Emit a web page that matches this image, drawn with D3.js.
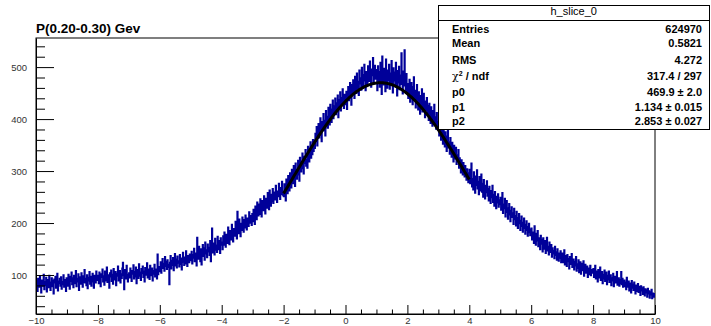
<!DOCTYPE html>
<html><head><meta charset="utf-8">
<script src="https://cdn.jsdelivr.net/npm/d3@7/dist/d3.min.js"></script>
<style>
html,body{margin:0;padding:0;background:#fff;}
svg{display:block;font-family:"Liberation Sans",Arial,Helvetica,sans-serif;}
</style></head><body>
<svg id="chart" width="711" height="326"></svg>
<script>
// Histogram h_slice_0: 1000 bins of width 0.02 over [-10, 10], one row per unit of x
const countsByUnit = [
 [74,88,69,93,81,77,98,85,66,90,79,84,101,72,87,80,95,68,83,91,76,99,86,71,82,94,78,89,64,92,85,97,75,81,103,70,88,84,93,79,96,73,87,82,100,77,91,85,69,94],
 [92,79,101,86,73,97,88,105,82,94,76,99,90,84,108,78,93,87,102,71,96,89,83,104,91,77,98,86,110,85,93,80,100,74,95,89,106,83,97,79,92,103,87,75,99,94,85,107,90,96],
 [99,84,105,93,78,102,96,111,87,98,81,107,94,89,115,86,100,92,75,104,97,109,88,101,83,112,95,91,106,80,103,98,117,89,96,108,85,102,94,113,124,99,72,110,104,93,118,97,87,101],
 [104,95,113,99,88,108,102,119,93,106,97,115,84,110,101,94,121,105,98,90,112,103,117,96,107,87,114,100,109,123,95,104,111,92,118,106,99,113,89,108,102,120,97,111,105,93,140,101,116,107],
 [110,125,104,119,131,113,122,108,135,117,126,111,129,120,115,82,124,137,112,128,119,133,109,126,141,118,130,114,136,123,127,116,139,121,132,110,128,143,125,119,134,122,146,129,117,137,131,124,140,133],
 [128,145,122,139,133,151,126,142,137,118,172,147,131,155,139,126,150,120,144,158,136,152,129,163,141,148,134,159,145,153,138,166,126,150,190,143,161,152,139,170,148,157,144,174,155,149,166,142,171,158],
 [163,149,175,158,182,166,154,178,170,161,192,172,159,185,176,168,197,173,164,189,181,175,203,184,170,222,188,180,207,192,174,199,186,211,195,183,206,191,215,197,187,209,202,194,221,200,214,205,196,218],
 [203,226,211,198,232,219,207,240,222,214,236,217,246,228,212,243,231,224,252,235,218,247,240,229,258,236,226,263,244,233,255,241,266,238,250,259,245,272,254,240,261,251,276,257,246,268,255,280,260,253],
 [251,275,260,243,284,266,257,291,273,262,296,279,268,303,284,276,310,289,271,315,296,285,302,320,293,281,326,308,299,317,334,305,295,328,315,341,310,322,306,347,330,318,338,356,325,343,332,360,338,349],
 [344,372,358,385,349,376,391,364,381,402,370,357,395,384,410,378,397,368,416,391,405,383,422,398,389,428,407,394,419,436,401,425,413,440,409,431,418,446,403,437,424,452,416,441,429,458,433,421,447,438],
 [428,453,419,445,462,436,451,470,441,427,466,448,475,457,440,482,461,450,488,459,472,446,494,468,479,456,499,471,462,485,505,474,455,491,480,467,502,486,473,511,478,462,496,484,518,470,489,503,477,495],
 [481,455,502,470,491,462,509,477,448,521,486,466,497,472,453,515,483,460,494,475,505,458,488,469,512,480,451,498,474,490,463,509,478,445,493,470,501,457,484,467,527,473,449,492,464,533,476,455,487,450],
 [468,440,459,476,433,452,470,445,428,462,481,437,455,422,447,466,431,418,452,439,410,445,427,458,414,436,449,421,403,434,417,441,409,426,398,430,414,392,423,405,387,416,398,428,390,404,381,412,395,383],
 [392,368,378,401,360,383,371,352,389,366,347,375,358,338,367,381,345,356,333,364,350,327,355,341,318,349,336,324,345,313,331,319,341,306,325,312,297,321,308,293,316,302,289,310,296,283,304,291,278,296],
 [303,276,292,315,270,285,264,298,281,258,290,273,302,266,280,255,289,271,262,294,260,276,250,283,267,247,272,259,281,252,266,243,270,256,238,262,249,272,240,255,233,260,246,228,251,239,256,231,244,236],
 [249,225,240,258,219,236,228,247,212,233,243,221,208,229,237,216,203,224,231,211,219,198,228,207,214,195,222,203,190,210,218,199,186,205,213,194,183,201,209,190,179,197,204,186,175,193,199,182,176,188],
 [190,168,182,175,161,194,172,158,180,166,185,155,171,163,149,176,160,168,145,171,157,150,166,142,159,172,147,155,139,163,150,144,158,135,152,141,147,132,155,138,144,129,150,136,127,142,133,146,124,138],
 [142,124,133,148,120,137,128,117,139,126,131,112,135,121,127,141,115,124,130,110,126,118,135,108,121,113,129,105,119,125,102,116,122,109,127,98,114,120,104,111,117,96,113,108,101,118,99,110,104,107],
 [112,96,104,118,93,107,99,87,110,95,102,115,90,98,106,84,101,93,109,88,97,105,82,99,91,107,86,95,100,80,94,89,103,78,92,97,85,90,106,81,88,94,79,91,84,106,82,93,77,87],
 [90,78,86,72,95,81,77,88,70,84,79,66,89,75,82,71,86,74,64,80,76,69,83,67,78,72,61,79,70,75,63,77,68,60,73,66,71,58,74,64,69,56,67,62,72,55,65,60,58,64]
];

const xDomain = [-10, 10];
const yDomain = [25, 556];
const xMajorTicks = [-10, -8, -6, -4, -2, 0, 2, 4, 6, 8, 10];
const yMajorTicks = [100, 200, 300, 400, 500];

// Gaussian fit over [-2, 4]
const fitRange = [-2, 4];
const fitParams = [469.9, 1.134, 2.853];

const title = "P(0.20-0.30) Gev";
const statsTitle = "h_slice_0";
const statLabels = ["Entries", "Mean", "RMS", "chi2", "p0", "p1", "p2"];
const statValues = ["624970", "0.5821", "4.272", "317.4 / 297", "469.9 \u00b1 2.0", "1.134 \u00b1 0.015", "2.853 \u00b1 0.027"];

const svg = d3.select("#chart");
const frame = {left: 36, right: 655, top: 38, bottom: 314};

const x = d3.scaleLinear().domain(xDomain).range([frame.left, frame.right]);
const y = d3.scaleLinear().domain(yDomain).range([frame.bottom, frame.top]);

// frame
svg.append("rect")
  .attr("x", frame.left).attr("y", frame.top)
  .attr("width", frame.right - frame.left).attr("height", frame.bottom - frame.top)
  .attr("fill", "none").attr("stroke", "#000").attr("stroke-width", 1);

// histogram as a step outline
const bins = [];
countsByUnit.forEach((row, k) => {
  const n = row.length;
  row.forEach((v, i) => {
    bins.push({x0: xDomain[0] + k + i / n, x1: xDomain[0] + k + (i + 1) / n, v});
  });
});
const stepPts = [];
bins.forEach(b => { stepPts.push([b.x0, b.v]); stepPts.push([b.x1, b.v]); });

svg.append("defs").append("clipPath").attr("id", "plotClip")
  .append("rect").attr("x", frame.left).attr("y", frame.top)
  .attr("width", frame.right - frame.left).attr("height", frame.bottom - frame.top);

svg.append("path")
  .datum(stepPts)
  .attr("clip-path", "url(#plotClip)")
  .attr("fill", "none")
  .attr("stroke", "#000099")
  .attr("stroke-width", 1.6)
  .attr("d", d3.line().x(d => x(d[0])).y(d => y(d[1])));

// fit function
const [p0, p1, p2] = fitParams;
const gaus = t => p0 * Math.exp(-0.5 * Math.pow((t - p1) / p2, 2));
const fitPts = d3.range(0, 301).map(i => {
  const t = fitRange[0] + (fitRange[1] - fitRange[0]) * i / 300;
  return [t, gaus(t)];
});
svg.append("path")
  .datum(fitPts)
  .attr("fill", "none")
  .attr("stroke", "#000")
  .attr("stroke-width", 3)
  .attr("stroke-linejoin", "round")
  .attr("d", d3.line().x(d => x(d[0])).y(d => y(d[1])));

// axes
const tickColor = "#000";
const labelColor = "#333";
const xMinor = d3.range(-10, 10.001, 0.5).filter(v => !xMajorTicks.includes(v));
const yMinor = d3.range(40, 556, 20).filter(v => !yMajorTicks.includes(v));

const gx = svg.append("g").attr("transform", `translate(0,${frame.bottom})`);
gx.call(d3.axisBottom(x).tickValues(xMajorTicks).tickSize(-9).tickSizeOuter(0).tickPadding(3).tickFormat(d3.format("d")));
const gxm = svg.append("g").attr("transform", `translate(0,${frame.bottom})`);
gxm.call(d3.axisBottom(x).tickValues(xMinor).tickSize(-4.5).tickSizeOuter(0).tickFormat(""));
gxm.select(".domain").remove();

const gy = svg.append("g").attr("transform", `translate(${frame.left},0)`);
gy.call(d3.axisLeft(y).tickValues(yMajorTicks).tickSize(-18).tickSizeOuter(0).tickPadding(9).tickFormat(d3.format("d")));
const gym = svg.append("g").attr("transform", `translate(${frame.left},0)`);
gym.call(d3.axisLeft(y).tickValues(yMinor).tickSize(-9).tickSizeOuter(0).tickFormat(""));
gym.select(".domain").remove();

[gx, gy, gxm, gym].forEach(g => {
  g.selectAll("line").attr("stroke", tickColor).attr("stroke-width", 1);
  g.selectAll(".domain").attr("stroke", tickColor);
  g.selectAll("text").attr("fill", labelColor).attr("font-size", 9.5)
    .attr("font-family", "'Liberation Sans', Arial, sans-serif");
});

// title
svg.append("text")
  .attr("x", 36).attr("y", 33)
  .attr("font-size", 13.5).attr("font-weight", "bold").attr("fill", "#000")
  .text(title);

// statistics box
const box = {x: 438, y: 5, w: 271.5, h: 124, head: 15};
const sg = svg.append("g");
sg.append("rect")
  .attr("x", box.x + 0.5).attr("y", box.y + 0.5).attr("width", box.w - 0.5).attr("height", box.h)
  .attr("fill", "#fff").attr("stroke", "#000").attr("stroke-width", 1);
sg.append("line")
  .attr("x1", box.x).attr("x2", box.x + box.w)
  .attr("y1", box.y + box.head + 0.5).attr("y2", box.y + box.head + 0.5)
  .attr("stroke", "#000");
sg.append("text")
  .attr("x", box.x + box.w / 2).attr("y", 15)
  .attr("text-anchor", "middle").attr("font-size", 11).attr("fill", "#000")
  .text(statsTitle);

const rowBase = [33, 47, 63.5, 80, 95.5, 110.5, 125];
statLabels.forEach((lab, i) => {
  const t = sg.append("text")
    .attr("x", 452).attr("y", rowBase[i])
    .attr("font-size", 11).attr("font-weight", "bold").attr("fill", "#000");
  if (lab === "chi2") {
    t.append("tspan").attr("font-weight", "normal").attr("font-family", "'DejaVu Serif', serif").text("\u03c7");
    t.append("tspan").attr("font-size", 7).attr("dy", -4).text("2");
    t.append("tspan").attr("dy", 4).text(" / ndf");
  } else {
    t.text(lab);
  }
  sg.append("text")
    .attr("x", 702).attr("y", rowBase[i])
    .attr("text-anchor", "end")
    .attr("font-size", 11).attr("font-weight", "bold").attr("fill", "#000")
    .text(statValues[i]);
});
</script>
</body></html>
